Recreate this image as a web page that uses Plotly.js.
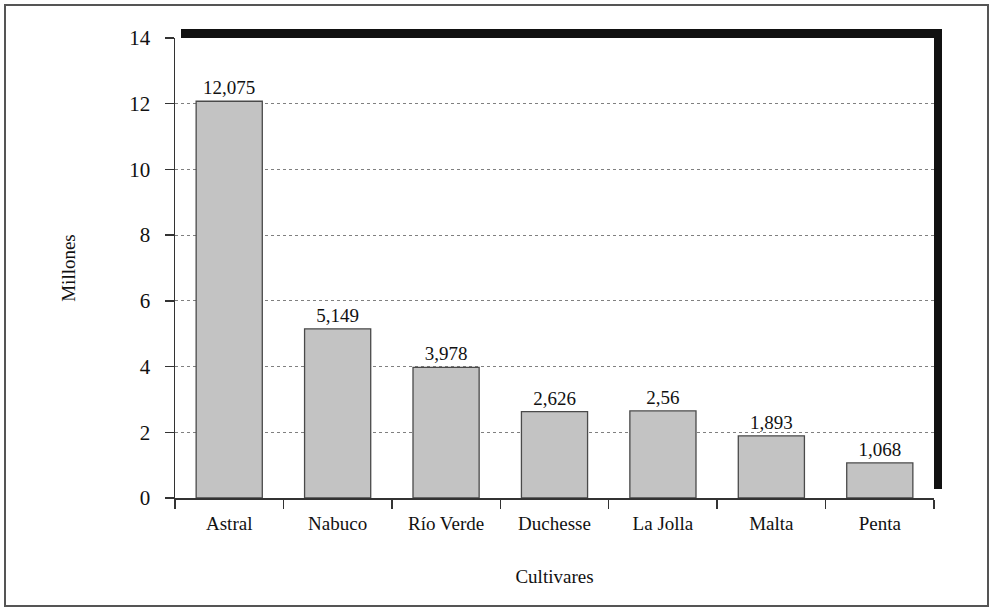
<!DOCTYPE html>
<html>
<head>
<meta charset="utf-8">
<script src="https://cdn.plot.ly/plotly-3.0.1.min.js"></script>
<style>html,body{margin:0;padding:0;background:#fff;}#chart{width:991px;height:609px;}</style>
</head>
<body>
<div id="chart"></div>
<script>
var categories = ["Astral", "Nabuco", "Río Verde", "Duchesse", "La Jolla", "Malta", "Penta"];
var values = [12.075, 5.149, 3.978, 2.626, 2.65, 1.893, 1.068];
var valueLabels = ["12,075", "5,149", "3,978", "2,626", "2,56", "1,893", "1,068"];
var yTicks = [0, 2, 4, 6, 8, 10, 12, 14];

var W = 991, H = 609;
var mL = 175, mR = 57, mT = 38, mB = 111;
var pw = W - mL - mR, ph = H - mT - mB;
function px(x) { return (x - mL) / pw; }
function py(y) { return (H - mB - y) / ph; }

var font = "'Liberation Serif', 'Times New Roman', serif";
var ink = "#111";

var trace = {
  type: "bar",
  x: categories,
  y: values,
  text: valueLabels,
  textposition: "outside",
  cliponaxis: false,
  textfont: {family: font, size: 19, color: ink},
  marker: {color: "#c3c3c3", line: {color: "#4a4a4a", width: 1.3}},
  hoverinfo: "x+y"
};

var layout = {
  width: W, height: H,
  margin: {l: mL, r: mR, t: mT, b: mB, pad: 0},
  paper_bgcolor: "#ffffff",
  plot_bgcolor: "#ffffff",
  showlegend: false,
  bargap: 0.39,
  font: {family: font, size: 19, color: ink},
  xaxis: {
    type: "category",
    showline: true, linecolor: "#333", linewidth: 1.5,
    ticks: "outside", tickson: "boundaries", ticklen: 9, tickcolor: "#333", tickwidth: 1.5,
    ticklabelstandoff: 8,
    showgrid: false, zeroline: false,
    tickfont: {family: font, size: 19, color: ink},
    title: {text: "Cultivares", font: {family: font, size: 19, color: ink}, standoff: 36},
    automargin: false
  },
  yaxis: {
    range: [0, 14],
    tickvals: yTicks,
    ticktext: yTicks.map(String),
    showline: true, linecolor: "#333", linewidth: 1.5,
    ticks: "outside", ticklen: 9, tickcolor: "#333", tickwidth: 1.5,
    ticklabelstandoff: 10,
    showgrid: true, gridcolor: "#808080", gridwidth: 1, griddash: "dot",
    zeroline: false,
    tickfont: {family: font, size: 21, color: ink},
    title: {text: "Millones", font: {family: font, size: 19, color: ink}, standoff: 48},
    automargin: false
  },
  shapes: [
    {type: "rect", xref: "paper", yref: "paper",
     x0: px(5), x1: px(988), y0: py(606), y1: py(5),
     line: {color: "#555", width: 2}, fillcolor: "rgba(0,0,0,0)", layer: "below"},
    {type: "rect", xref: "paper", yref: "paper",
     x0: px(181), x1: px(942), y0: py(38), y1: py(29),
     line: {width: 0}, fillcolor: "#111", layer: "above"},
    {type: "rect", xref: "paper", yref: "paper",
     x0: px(934), x1: px(942), y0: py(489), y1: py(29),
     line: {width: 0}, fillcolor: "#111", layer: "above"}
  ]
};

Plotly.newPlot("chart", [trace], layout, {displayModeBar: false, staticPlot: true});
</script>
</body>
</html>
